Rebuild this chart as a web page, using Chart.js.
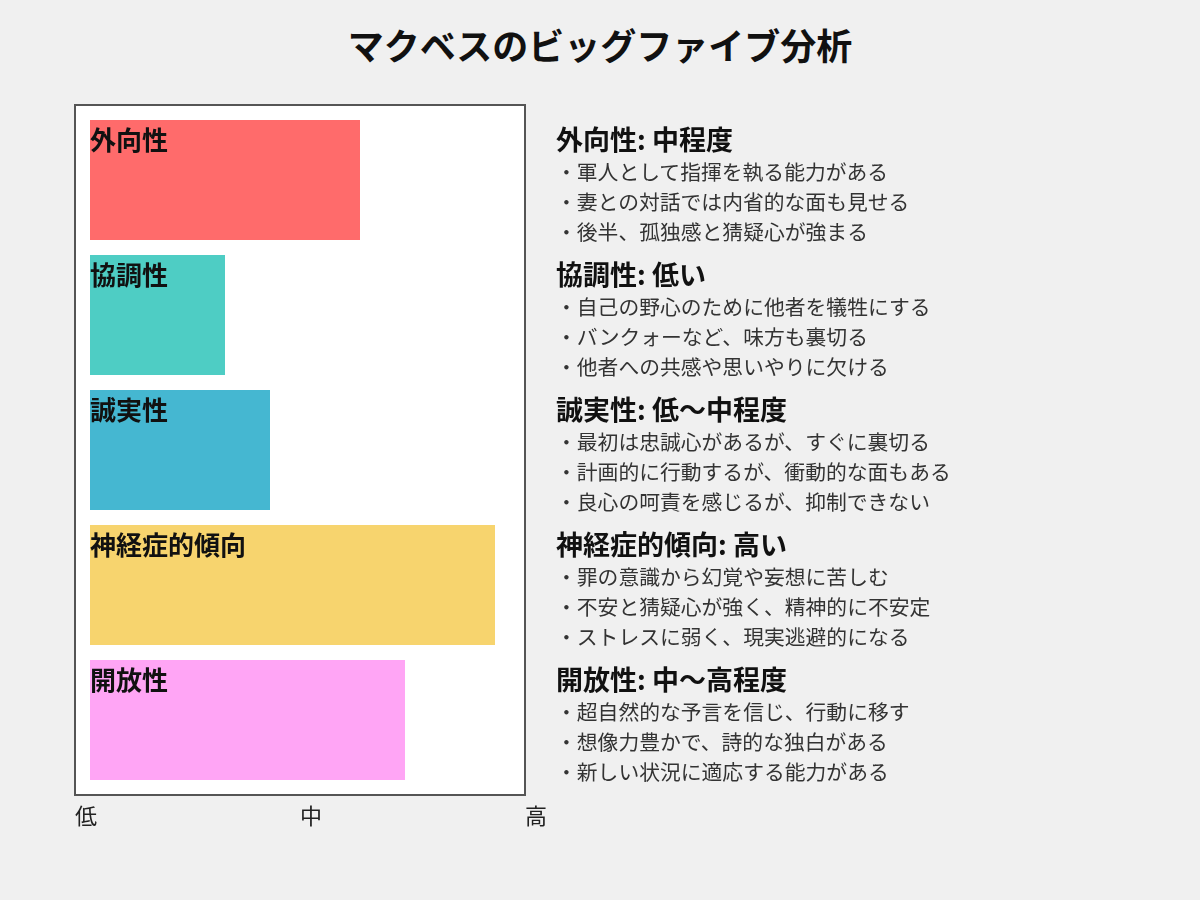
<!DOCTYPE html>
<html lang="ja">
<head>
<meta charset="utf-8">
<title>マクベスのビッグファイブ分析</title>
<script src="https://cdn.jsdelivr.net/npm/chart.js@4.4.1/dist/chart.umd.min.js"></script>
<style>
  html, body { margin: 0; padding: 0; background: #f0f0f0; }
  body { width: 1200px; height: 900px; position: relative; overflow: hidden;
         font-family: "Noto Sans CJK JP", "Noto Sans", sans-serif; }
  #title { position: absolute; left: 0; top: 20px; width: 1200px; text-align: center;
           font-size: 36px; font-weight: bold; line-height: 48px; color: #111; margin: 0; }
  #wrap { position: absolute; left: 0; top: 0; width: 1200px; height: 900px; }
  #notes { position: absolute; left: 556px; top: 0; }
  .group { position: absolute; left: 0; width: 600px; }
  .group h2 { margin: 0; font-size: 27px; line-height: 37px; font-weight: bold; color: #111; }
  .group div { font-size: 20.8px; line-height: 30px; color: #333; white-space: nowrap; margin-top: -1px; margin-bottom: 1px; }
</style>
</head>
<body>
<h1 id="title">マクベスのビッグファイブ分析</h1>
<div id="wrap"><canvas id="bigfive" width="1200" height="900"></canvas></div>
<div id="notes"></div>
<script>
var traits = ["外向性", "協調性", "誠実性", "神経症的傾向", "開放性"];
var scores = [6, 3, 4, 9, 7];
var ratings = ["中程度", "低い", "低〜中程度", "高い", "中〜高程度"];
var levels = ["低", "中", "高"];
var colors = ["#FF6B6B", "#4ECDC4", "#45B7D1", "#F7D46E", "#FFA5F5"];
var notes = [
	["軍人として指揮を執る能力がある", "妻との対話では内省的な面も見せる", "後半、孤独感と猜疑心が強まる"],
	["自己の野心のために他者を犠牲にする", "バンクォーなど、味方も裏切る", "他者への共感や思いやりに欠ける"],
	["最初は忠誠心があるが、すぐに裏切る", "計画的に行動するが、衝動的な面もある", "良心の呵責を感じるが、抑制できない"],
	["罪の意識から幻覚や妄想に苦しむ", "不安と猜疑心が強く、精神的に不安定", "ストレスに弱く、現実逃避的になる"],
	["超自然的な予言を信じ、行動に移す", "想像力豊かで、詩的な独白がある", "新しい状況に適応する能力がある"]
];

// right side description
var box = document.getElementById("notes");
for (var i = 0; i < traits.length; i++) {
	var g = document.createElement("div");
	g.className = "group";
	g.style.top = (120 + 135 * i) + "px";
	var h = document.createElement("h2");
	h.textContent = traits[i] + ": " + ratings[i];
	g.appendChild(h);
	for (var j = 0; j < notes[i].length; j++) {
		var line = document.createElement("div");
		line.textContent = "・" + notes[i][j];
		g.appendChild(line);
	}
	box.appendChild(g);
}

var frame = {
	id: "frame",
	beforeDatasetsDraw: function(chart) {
		var a = chart.chartArea;
		var ctx = chart.ctx;
		ctx.save();
		ctx.fillStyle = "#ffffff";
		ctx.fillRect(a.left, a.top - 7.5, a.right - a.left, a.bottom - a.top + 15);
		ctx.strokeStyle = "#555555";
		ctx.lineWidth = 2;
		ctx.strokeRect(a.left, a.top - 7.5, a.right - a.left, a.bottom - a.top + 15);
		ctx.restore();
	}
};

var barNames = {
	id: "barNames",
	afterDatasetsDraw: function(chart) {
		var ctx = chart.ctx;
		var meta = chart.getDatasetMeta(0);
		ctx.save();
		ctx.font = "bold 26px 'Noto Sans CJK JP'";
		ctx.fillStyle = "#111";
		ctx.textAlign = "left";
		ctx.textBaseline = "middle";
		meta.data.forEach(function(bar, i) {
			ctx.fillText(traits[i], bar.base, bar.y - bar.height / 2 + 20);
		});
		ctx.restore();
	}
};

var ctx1 = document.getElementById("bigfive");
var chart1 = new Chart(ctx1, {
	type: "bar",
	data: {
		labels: traits,
		datasets: [{
			data: scores,
			backgroundColor: colors,
			borderWidth: 0,
			barPercentage: 1,
			categoryPercentage: 120 / 135
		}]
	},
	options: {
		indexAxis: "y",
		responsive: false,
		animation: false,
		devicePixelRatio: 1,
		layout: { padding: { left: 75, right: 675, top: 112.5, bottom: 72.5 } },
		plugins: { legend: { display: false }, tooltip: { enabled: false } },
		scales: {
			x: {
				min: -1 / 3,
				max: 29 / 3,
				grid: { display: false, drawTicks: false },
				border: { display: false },
				afterBuildTicks: function(scale) {
					scale.ticks = [
						{ value: scale.min },
						{ value: (scale.min + scale.max) / 2 },
						{ value: scale.max }
					];
				},
				afterFit: function(scale) { scale.height = 40; },
				ticks: {
					align: "start",
					autoSkip: false,
					maxRotation: 0,
					padding: 15,
					color: "#222",
					font: { family: "'Noto Sans CJK JP'", size: 22 },
					callback: function(v, i) { return levels[i]; }
				}
			},
			y: { display: false }
		}
	},
	plugins: [frame, barNames]
});
</script>
</body>
</html>
